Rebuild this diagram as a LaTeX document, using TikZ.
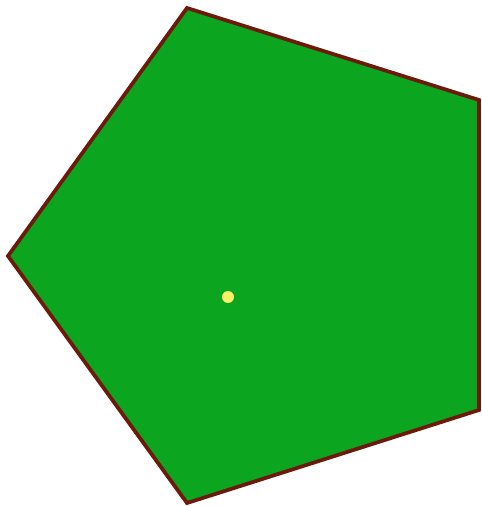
\documentclass[tikz,border=0pt]{standalone}
\definecolor{leafgreen}{RGB}{12,165,32}
\definecolor{rimbrown}{RGB}{110,26,10}
\definecolor{dotyellow}{RGB}{252,240,100}
\begin{document}
\begin{tikzpicture}[x=0.02cm, y=-0.02cm]
    % 画布
    \useasboundingbox (0,0) rectangle (482,506);
    
    % 五边形顶点
    \coordinate (top) at (187,8);
    \coordinate (upright) at (479,100);
    \coordinate (lowright) at (479,410);
    \coordinate (bottom) at (187,503);
    \coordinate (left) at (8,256);
    
    % 五边形
    \filldraw[fill=leafgreen, draw=rimbrown, line width=0.075cm, line join=miter]
        (top) -- (upright) -- (lowright) -- (bottom) -- (left) -- cycle;
    
    % 中间的点
    \fill[dotyellow] (228,297) circle (0.12cm);
\end{tikzpicture}
\end{document}
